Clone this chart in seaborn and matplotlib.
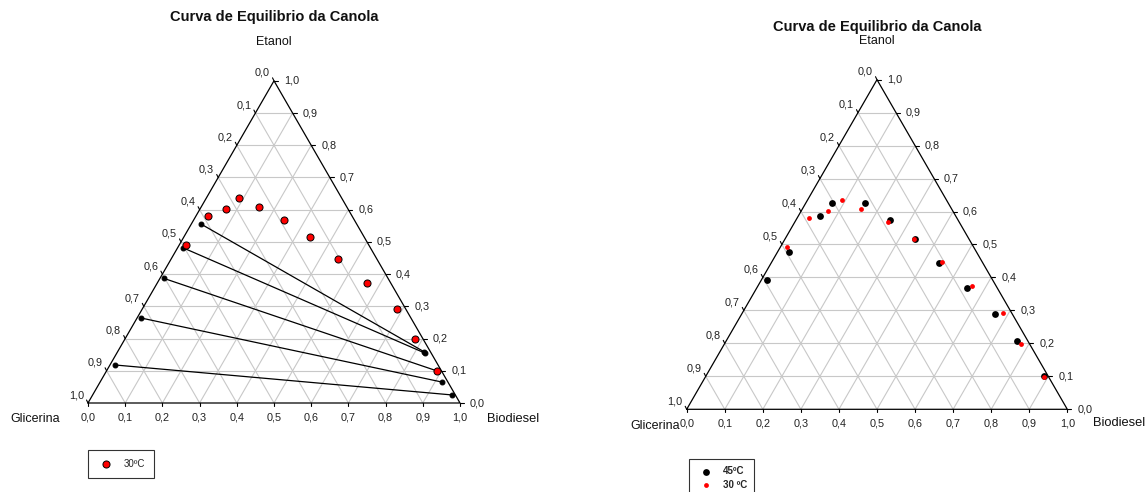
import numpy as np
import pandas as pd
import matplotlib.pyplot as plt
import seaborn as sns

# composicoes (fracao): biodiesel e etanol, glicerina = resto
bio_30 = [0.017, 0.033, 0.069, 0.089, 0.155, 0.244, 0.338, 0.448, 0.563, 0.684, 0.780, 0.888]
eta_30 = [0.491, 0.579, 0.602, 0.636, 0.608, 0.568, 0.516, 0.446, 0.373, 0.293, 0.199, 0.099]

bio_45 = [0.014, 0.029, 0.057, 0.069, 0.156, 0.247, 0.343, 0.441, 0.551, 0.667, 0.765, 0.887]
eta_45 = [0.393, 0.478, 0.587, 0.625, 0.626, 0.574, 0.516, 0.443, 0.369, 0.288, 0.208, 0.101]

# linhas de amarracao 30C (fase glicerina -> fase biodiesel)
tie_glic_bio = [0.025, 0.014, 0.010, 0.010, 0.014]
tie_glic_eta = [0.556, 0.482, 0.387, 0.264, 0.118]
tie_bio_bio = [0.824, 0.828, 0.887, 0.919, 0.966]
tie_bio_eta = [0.159, 0.155, 0.100, 0.065, 0.025]

ticks = np.round(np.arange(0, 1.01, 0.1), 1)
tick_labels = [f"{t:.1f}".replace(".", ",") for t in ticks]

W, HH = 1145, 492
R3 = np.sqrt(3) / 2
GRID = "#c8c8c8"


def xy(bio, eta):
    bio = np.asarray(bio, dtype=float)
    eta = np.asarray(eta, dtype=float)
    return bio + eta / 2, eta * R3


def place(fig, px0, px1, ox, oy, scale):
    ax = fig.add_axes([px0 / W, 0, (px1 - px0) / W, 1])
    ax.set_xlim((px0 - ox) / scale, (px1 - ox) / scale)
    ax.set_ylim((oy - HH) / scale, oy / scale)
    ax.axis("off")
    return ax


def triangle(ax, scale, title_y, etanol_y, glic_xy, bio_xy):
    p = 1 / scale
    for t in ticks[1:-1]:
        ax.plot(*xy([0, 1 - t], [t, t]), color=GRID, lw=0.8, zorder=1)
        ax.plot(*xy([t, t], [0, 1 - t]), color=GRID, lw=0.8, zorder=1)
        ax.plot(*xy([1 - t, 0], [0, 1 - t]), color=GRID, lw=0.8, zorder=1)
    ax.plot(*xy([0, 1, 0, 0], [0, 0, 1, 0]), color="black", lw=0.9, zorder=2)
    for t, lab in zip(ticks, tick_labels):
        x, y = xy(t, 0)
        ax.plot([x, x], [y, y - 3 * p], color="black", lw=0.8)
        ax.text(x, y - 14 * p, lab, ha="center", va="center", fontsize=7.8, color="#222")
        x, y = xy(1 - t, t)
        ax.plot([x, x + 4 * p], [y, y], color="black", lw=0.8)
        ax.text(x + 10 * p, y, lab, ha="left", va="center", fontsize=7.8, color="#222")
        x, y = xy(0, 1 - t)
        ax.plot([x, x - 1.5 * p], [y, y + 3 * p], color="black", lw=0.8)
        ax.text(x - 4 * p, y + 8 * p, lab, ha="right", va="center", fontsize=7.8, color="#222")
    ax.text(0.5, title_y, "Curva de Equilibrio da Canola", ha="center", va="center",
            fontsize=10.5, fontweight="bold", color="#111")
    ax.text(0.5, etanol_y, "Etanol", ha="center", va="center", fontsize=9, color="#111")
    ax.text(*glic_xy, "Glicerina", ha="center", va="center", fontsize=9, color="#111")
    ax.text(*bio_xy, "Biodiesel", ha="left", va="center", fontsize=9.3, color="#111")


sns.set_style("white")
plt.rcParams["font.family"] = ["Liberation Sans", "DejaVu Sans"]

fig = plt.figure(figsize=(11.45, 4.92), dpi=100)

# ---- grafico da esquerda: 30C com linhas de amarracao
axl = place(fig, 0, 572, 88, 403, 372)
triangle(axl, 372, 1.0376, 0.970, (-0.1425, -0.043), (1.0726, -0.043))

ties = pd.DataFrame({
    "bio": tie_glic_bio + tie_bio_bio,
    "eta": tie_glic_eta + tie_bio_eta,
    "tie": list(range(5)) * 2,
})
ties["x"], ties["y"] = xy(ties["bio"], ties["eta"])
sns.lineplot(data=ties, x="x", y="y", units="tie", estimator=None, sort=False,
             color="black", lw=0.9, marker="o", markersize=3.5,
             markeredgecolor="black", legend=False, ax=axl, zorder=3)

x30, y30 = xy(bio_30, eta_30)
sns.scatterplot(x=x30, y=y30, color="red", edgecolor="black", linewidth=0.7,
                s=26, label="30ºC", ax=axl, zorder=4)
axl.set_xlabel("")
axl.set_ylabel("")
axl.legend(loc="upper left", bbox_to_anchor=(88 / W, 1 - 450 / HH),
           bbox_transform=fig.transFigure, fontsize=7, frameon=True,
           fancybox=False, edgecolor="black", borderpad=0.9, borderaxespad=0,
           handletextpad=0.8).get_frame().set_linewidth(0.8)

# ---- grafico da direita: 45C e 30C
axr = place(fig, 572, 1145, 686.7, 409.3, 380.6)
triangle(axr, 380.6, 1.0045, 0.9677, (-0.083, -0.044), (1.0667, -0.037))

x45, y45 = xy(bio_45, eta_45)
sns.scatterplot(x=x45, y=y45, color="black", edgecolor="black", linewidth=0,
                s=24, label="45ºC", ax=axr, zorder=4)
sns.scatterplot(x=x30, y=y30, color="red", edgecolor="red", linewidth=0,
                s=12, label="30 ºC", ax=axr, zorder=5)
axr.set_xlabel("")
axr.set_ylabel("")
leg = axr.legend(loc="upper left", bbox_to_anchor=(689.3 / W, 1 - 459.3 / HH),
                 bbox_transform=fig.transFigure, fontsize=7, frameon=True,
                 fancybox=False, edgecolor="black", borderpad=0.7, borderaxespad=0,
                 handletextpad=0.8, labelspacing=0.35,
                 prop={"weight": "bold", "size": 7})
leg.get_frame().set_linewidth(0.8)

fig.savefig("out.png", dpi=100)
